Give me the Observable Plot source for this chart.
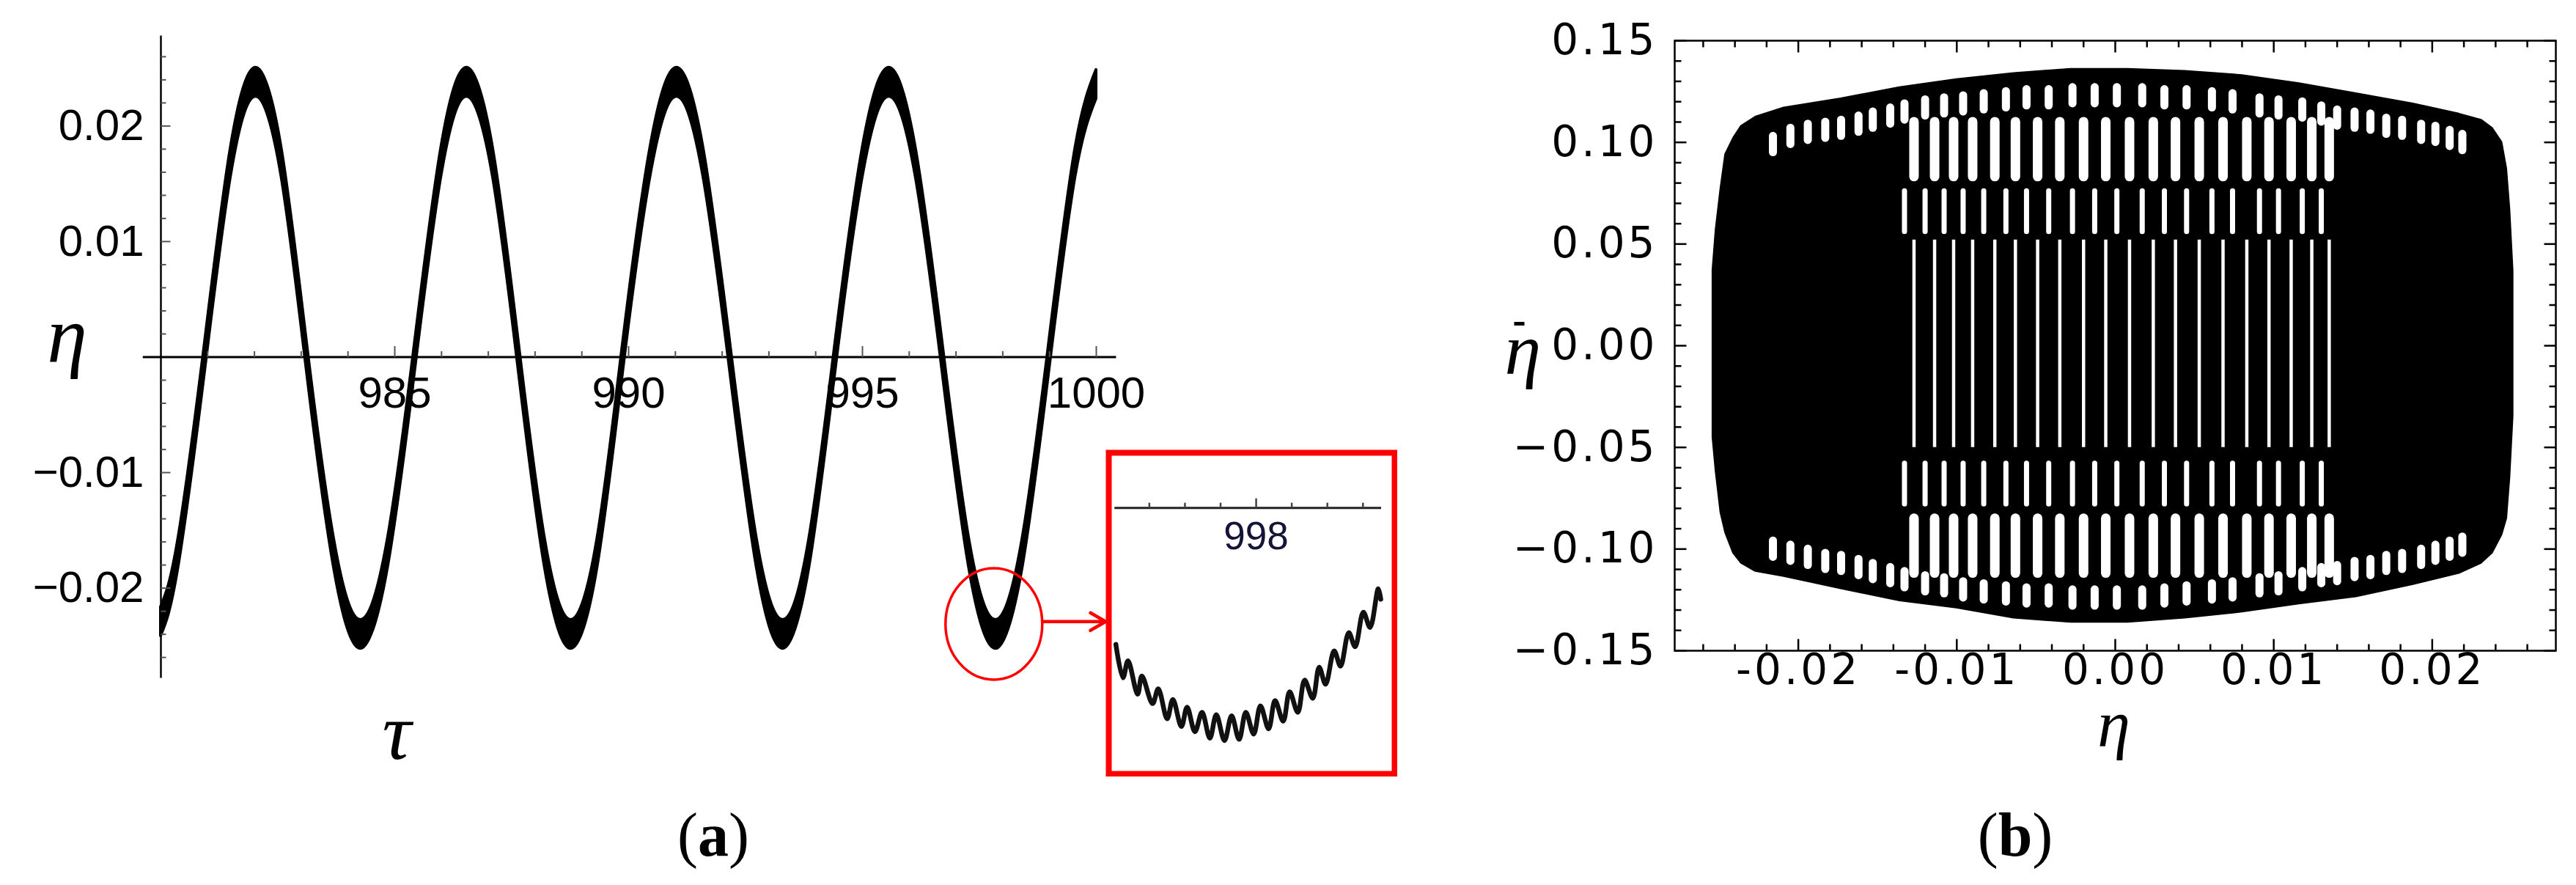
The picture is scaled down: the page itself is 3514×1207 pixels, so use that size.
<!DOCTYPE html>
<html>
<head>
<meta charset="utf-8">
<script src="https://cdn.jsdelivr.net/npm/d3@7"></script>
<script src="https://cdn.jsdelivr.net/npm/@observablehq/plot@0.6"></script>
<style>
  html, body { margin: 0; padding: 0; background: #fff; }
  #root { position: relative; width: 3514px; height: 1207px; overflow: hidden; background: #fff; }
  .cap { position: absolute; top: 1097px; font-family: "Liberation Serif", "DejaVu Serif", serif; font-size: 84px; line-height: 1; transform: translateX(-50%); color: #000; white-space: nowrap; }
  .cap b { font-weight: bold; }
</style>
</head>
<body>
<div id="root"></div>
<script>
// ---------------- Panel (a): eta(tau), centre line read at peaks / zero crossings / troughs
const tau = [980.00, 980.37, 980.94, 981.49, 982.03, 982.58, 983.12, 983.70, 984.27, 984.85,
             985.43, 985.99, 986.54, 987.10, 987.65, 988.21, 988.77, 989.33, 989.88, 990.46,
             991.03, 991.60, 992.17, 992.74, 993.30, 993.86, 994.42, 995.00, 995.57, 996.14,
             996.71, 997.28, 997.85, 998.42, 998.99, 999.55, 1000.00];
const eta = [-0.0229, -0.0170, 0, 0.0168, 0.0238, 0.0168, 0, -0.0170, -0.0240, -0.0170,
             0, 0.0168, 0.0238, 0.0168, 0, -0.0170, -0.0240, -0.0170, 0, 0.0168,
             0.0238, 0.0168, 0, -0.0170, -0.0240, -0.0170, 0, 0.0168, 0.0238, 0.0168,
             0, -0.0170, -0.0240, -0.0170, 0, 0.0168, 0.0236];
const rippleHalfWidth = 0.00125;          // half-height of the fast-ripple band
const etaTickLabels = [-0.02, -0.01, 0.01, 0.02];
const tauTickLabels = [985, 990, 995, 1000];
const zoomCircle = [{tau: 997.81, eta: -0.0231}];
const zoomArrow = [{tau1: 998.86, eta1: -0.0229, tau2: 1000.2, eta2: -0.0229}];

// ---------------- Inset: zoom of the trough near tau = 998
const insetTau = [997.606, 997.626, 997.640, 997.667, 997.679, 997.709, 997.725, 997.750, 997.766, 997.790,
                  997.806, 997.828, 997.848, 997.870, 997.888, 997.911, 997.931, 997.952, 997.971, 997.993,
                  998.012, 998.035, 998.053, 998.076, 998.094, 998.117, 998.136, 998.159, 998.177, 998.195,
                  998.219, 998.237, 998.260, 998.278, 998.301, 998.320, 998.343, 998.350];
const insetEta = [-0.02333, -0.02390, -0.02361, -0.02418, -0.02387, -0.02434, -0.02409, -0.02460, -0.02427, -0.02473,
                  -0.02440, -0.02482, -0.02449, -0.02493, -0.02453, -0.02497, -0.02455, -0.02495, -0.02449, -0.02486,
                  -0.02438, -0.02477, -0.02429, -0.02464, -0.02414, -0.02449, -0.02394, -0.02425, -0.02372, -0.02401,
                  -0.02344, -0.02370, -0.02313, -0.02337, -0.02278, -0.02304, -0.02238, -0.02256];
const insetTicks = [997.7, 997.8, 997.9, 998.0, 998.1, 998.2, 998.3];
const insetLabel = [998];
const insetAxisEta = -0.0210;

// ---------------- Panel (b): phase portrait (eta, eta-dot)
const envEta    = [-0.0254, -0.0252, -0.0249, -0.0246, -0.0241, -0.0236, -0.0227, -0.0209, -0.0173, -0.0136,
                   -0.0100, -0.0064, -0.0028, 0.0008, 0.0044, 0.0080, 0.0116, 0.0152, 0.0188, 0.0217,
                   0.0231, 0.0238, 0.0244, 0.0247, 0.0249, 0.0251];
const envTop    = [0.037, 0.057, 0.077, 0.094, 0.102, 0.108, 0.1125, 0.117, 0.1215, 0.127,
                   0.131, 0.134, 0.136, 0.136, 0.135, 0.133, 0.129, 0.124, 0.119, 0.114,
                   0.111, 0.107, 0.100, 0.087, 0.067, 0.037];
const envBottom = [-0.045, -0.062, -0.082, -0.092, -0.102, -0.107, -0.111, -0.1135, -0.1195, -0.1255,
                   -0.129, -0.134, -0.136, -0.136, -0.134, -0.131, -0.127, -0.1235, -0.1175, -0.112,
                   -0.107, -0.102, -0.093, -0.085, -0.065, -0.035];
// white loop openings seen in the trajectory (columns of loops)
const loopCols = [-0.0216, -0.0205, -0.0194, -0.0183, -0.0173, -0.0162, -0.0153, -0.0142, -0.0133, -0.0120,
                  -0.0108, -0.0096, -0.0083, -0.0069, -0.0056, -0.0042, -0.0027, -0.0013, 0.0001, 0.0017,
                  0.0031, 0.0045, 0.0061, 0.0074, 0.0091, 0.0103, 0.0118, 0.0130, 0.0140, 0.0151,
                  0.0161, 0.0171, 0.0181, 0.0193, 0.0202, 0.0211, 0.0219];
const loopTop = [0.103, 0.107, 0.109, 0.110, 0.111, 0.113, 0.115, 0.117, 0.119, 0.121,
                 0.122, 0.123, 0.124, 0.125, 0.126, 0.126, 0.127, 0.127, 0.127, 0.127,
                 0.126, 0.126, 0.125, 0.124, 0.122, 0.121, 0.120, 0.118, 0.116, 0.115,
                 0.114, 0.112, 0.111, 0.109, 0.108, 0.106, 0.104];
const loopBottom = [-0.104, -0.106, -0.108, -0.110, -0.111, -0.113, -0.115, -0.117, -0.119, -0.121,
                    -0.122, -0.124, -0.125, -0.126, -0.127, -0.127, -0.128, -0.128, -0.128, -0.128,
                    -0.127, -0.126, -0.125, -0.124, -0.122, -0.121, -0.119, -0.117, -0.116, -0.114,
                    -0.113, -0.111, -0.110, -0.108, -0.106, -0.104, -0.102];
const slitCols = [-0.0127, -0.0114, -0.0102, -0.0090, -0.0076, -0.0063, -0.0049, -0.0035, -0.0020, -0.0006,
                  0.0009, 0.0024, 0.0038, 0.0053, 0.0068, 0.0083, 0.0097, 0.0111, 0.0124, 0.0135];
const lensUpper = [0.083, 0.110];
const lensLower = [-0.112, -0.085];
const slitUpper = [0.056, 0.076];
const slitLower = [-0.078, -0.058];
const slitMiddle = [-0.050, 0.052];
const phaseXLabels = [-0.02, -0.01, 0, 0.01, 0.02];
const phaseYLabels = [-0.15, -0.10, -0.05, 0, 0.05, 0.10, 0.15];

// ---------------- helpers (shapes only)
const tickSym = (dx, dy) => ({draw(ctx) { ctx.moveTo(0, 0); ctx.lineTo(dx, dy); }});
const barSym = (w) => ({draw(ctx) { ctx.moveTo(-w / 2, 0); ctx.lineTo(w / 2, 0); }});
const ellipseSym = (rx, ry) => ({draw(ctx) {
  const k = 0.5523;
  ctx.moveTo(rx, 0);
  ctx.bezierCurveTo(rx, k * ry, k * rx, ry, 0, ry);
  ctx.bezierCurveTo(-k * rx, ry, -rx, k * ry, -rx, 0);
  ctx.bezierCurveTo(-rx, -k * ry, -k * rx, -ry, 0, -ry);
  ctx.bezierCurveTo(k * rx, -ry, rx, -k * ry, rx, 0);
  ctx.closePath();
}});
const SANS = "Liberation Sans, Arial, Helvetica, sans-serif";
const SERIF = "Liberation Serif, DejaVu Serif, serif";
const WIDE = "DejaVu Sans, Verdana, sans-serif";
const minus = s => s.replace("-", "\u2212");

const root = document.getElementById("root");
function place(node, left, top) {
  node.style.position = "absolute";
  node.style.left = left + "px";
  node.style.top = top + "px";
  node.style.maxWidth = "none";
  root.appendChild(node);
}

// ---------------- Panel (a)
const series = tau.map((t, i) => ({tau: t, eta: eta[i]}));
const etaMinor = d3.range(-13, 14).filter(i => i % 5 !== 0).map(i => i * 0.002);
const tauMinor = d3.range(981, 1001).filter(v => v % 5 !== 0);

const plotA = Plot.plot({
  width: 1600, height: 1100,
  marginLeft: 219, marginRight: 105, marginTop: 48.5, marginBottom: 175.5,
  x: {domain: [980, 1000], axis: null},
  y: {domain: [-0.0278, 0.0278], axis: null},
  marks: [
    Plot.areaY(series, {x: "tau", y1: d => d.eta - rippleHalfWidth, y2: d => d.eta + rippleHalfWidth,
      curve: "natural", fill: "black", stroke: "black", strokeWidth: 4}),
    Plot.ruleY([0], {x1: 979.62, x2: 1000.43, stroke: "black", strokeWidth: 3}),
    Plot.ruleX([980], {y1: -0.0278, y2: 0.0278, stroke: "black", strokeWidth: 2.5}),
    Plot.dot(etaMinor, {x: () => 980, y: d => d, symbol: tickSym(7, 0), stroke: "#555", strokeWidth: 2}),
    Plot.dot(etaTickLabels, {x: () => 980, y: d => d, symbol: tickSym(13, 0), stroke: "#555", strokeWidth: 2}),
    Plot.dot(tauMinor, {x: d => d, y: () => 0, symbol: tickSym(0, -8), stroke: "#555", strokeWidth: 2}),
    Plot.dot(tauTickLabels, {x: d => d, y: () => 0, symbol: tickSym(0, -15), stroke: "#555", strokeWidth: 2}),
    Plot.text(etaTickLabels, {x: () => 980, y: d => d, text: d => minus(d.toFixed(2)), textAnchor: "end",
      dx: -23, fontSize: 60, fontFamily: SANS, fill: "black"}),
    Plot.text(tauTickLabels, {x: d => d, y: () => 0, text: d => String(d), dy: 50,
      fontSize: 60, fontFamily: SANS, fill: "black"}),
    Plot.text(["\u03B7"], {x: () => 980, y: () => 0, text: d => d, dx: -128, dy: -28,
      fontSize: 110, fontFamily: SERIF, fontStyle: "italic", fill: "black"}),
    Plot.text(["\u03C4"], {frameAnchor: "bottom-left", text: d => d, dx: 302, dy: 110,
      fontSize: 110, fontFamily: SERIF, fontStyle: "italic", fill: "black"}),
    Plot.dot(zoomCircle, {x: "tau", y: "eta", symbol: ellipseSym(66, 76), stroke: "#ff0000", strokeWidth: 3.5, fill: "none"}),
    Plot.arrow(zoomArrow, {x1: "tau1", y1: "eta1", x2: "tau2", y2: "eta2", stroke: "#ff0000", strokeWidth: 4.5})
  ]
});
place(plotA, 0, 0);

// ---------------- Inset
const insetData = insetTau.map((t, i) => ({tau: t, eta: insetEta[i]}));
const plotInset = Plot.plot({
  width: 398, height: 446, marginLeft: 4, marginRight: 4, marginTop: 4, marginBottom: 4,
  x: {domain: [997.586, 998.389], axis: null},
  y: {domain: [-0.02554, -0.02006], axis: null},
  marks: [
    Plot.ruleY([insetAxisEta], {x1: 997.603, x2: 998.352, stroke: "#222", strokeWidth: 3}),
    Plot.dot(insetTicks.filter(v => v !== 998), {x: d => d, y: () => insetAxisEta, symbol: tickSym(0, -7), stroke: "#444", strokeWidth: 2.5}),
    Plot.dot(insetLabel, {x: d => d, y: () => insetAxisEta, symbol: tickSym(0, -13), stroke: "#444", strokeWidth: 2.5}),
    Plot.text(insetLabel, {x: d => d, y: () => insetAxisEta, text: d => String(d), dy: 39,
      fontSize: 53, fontFamily: SANS, fill: "#141438"}),
    Plot.line(insetData, {x: "tau", y: "eta", stroke: "#111", strokeWidth: 6.5, strokeLinejoin: "round",
      strokeLinecap: "round", curve: "catmull-rom"}),
    Plot.frame({stroke: "#ff0000", strokeWidth: 8})
  ]
});
place(plotInset, 1508, 613);

// ---------------- Panel (b)
const envData = envEta.map((e, i) => ({eta: e, top: envTop[i], bottom: envBottom[i]}));
const loopData = loopCols.map((e, i) => ({eta: e, top: loopTop[i], bottom: loopBottom[i]}));
const innerCols = loopCols.filter(v => Math.abs(v) < 0.0136);
const xMinorB = d3.range(-13, 14).filter(i => i % 5 !== 0).map(i => i * 0.002);
const yMinorB = d3.range(-14, 15).filter(i => i % 5 !== 0).map(i => i * 0.01);
const ovalLen = 0.008;
const tickB = {stroke: "black", strokeWidth: 2.5};

const plotB = Plot.plot({
  width: 1564, height: 1100,
  marginLeft: 334, marginRight: 28, marginTop: 55, marginBottom: 213,
  x: {domain: [-0.0278, 0.0278], axis: null},
  y: {domain: [-0.15, 0.15], axis: null},
  marks: [
    Plot.areaY(envData, {x: "eta", y1: "bottom", y2: "top", fill: "black", stroke: "black", strokeWidth: 2}),
    Plot.ruleX(loopData, {x: "eta", y1: d => d.top - ovalLen, y2: "top", stroke: "white", strokeWidth: 11, strokeLinecap: "round"}),
    Plot.ruleX(loopData, {x: "eta", y1: "bottom", y2: d => d.bottom + ovalLen, stroke: "white", strokeWidth: 11, strokeLinecap: "round"}),
    Plot.ruleX(slitCols, {x: d => d, y1: () => lensUpper[0], y2: () => lensUpper[1], stroke: "white", strokeWidth: 13, strokeLinecap: "round"}),
    Plot.ruleX(slitCols, {x: d => d, y1: () => lensLower[0], y2: () => lensLower[1], stroke: "white", strokeWidth: 13, strokeLinecap: "round"}),
    Plot.ruleX(innerCols, {x: d => d, y1: () => slitUpper[0], y2: () => slitUpper[1], stroke: "white", strokeWidth: 7, strokeLinecap: "round"}),
    Plot.ruleX(innerCols, {x: d => d, y1: () => slitLower[0], y2: () => slitLower[1], stroke: "white", strokeWidth: 7, strokeLinecap: "round"}),
    Plot.ruleX(slitCols, {x: d => d, y1: () => slitMiddle[0], y2: () => slitMiddle[1], stroke: "white", strokeWidth: 4.5}),
    Plot.frame({stroke: "black", strokeWidth: 2.5}),
    // ticks on all four sides, pointing inward
    Plot.dot(xMinorB, {x: d => d, frameAnchor: "bottom", symbol: tickSym(0, -9), ...tickB}),
    Plot.dot(phaseXLabels, {x: d => d, frameAnchor: "bottom", symbol: tickSym(0, -16), ...tickB}),
    Plot.dot(xMinorB, {x: d => d, frameAnchor: "top", symbol: tickSym(0, 9), ...tickB}),
    Plot.dot(phaseXLabels, {x: d => d, frameAnchor: "top", symbol: tickSym(0, 16), ...tickB}),
    Plot.dot(yMinorB, {y: d => d, frameAnchor: "left", symbol: tickSym(9, 0), ...tickB}),
    Plot.dot(phaseYLabels, {y: d => d, frameAnchor: "left", symbol: tickSym(16, 0), ...tickB}),
    Plot.dot(yMinorB, {y: d => d, frameAnchor: "right", symbol: tickSym(-9, 0), ...tickB}),
    Plot.dot(phaseYLabels, {y: d => d, frameAnchor: "right", symbol: tickSym(-16, 0), ...tickB}),
    Plot.text(phaseXLabels, {x: d => d, frameAnchor: "bottom", text: d => d.toFixed(2), dy: 45,
      fontSize: 58, fontFamily: WIDE, fill: "black"}),
    Plot.text(phaseYLabels, {y: d => d, frameAnchor: "left", text: d => minus(d.toFixed(2)), textAnchor: "end", dx: -23,
      fontSize: 58, fontFamily: WIDE, fill: "black"}),
    Plot.text(["\u03B7"], {frameAnchor: "bottom", text: d => d, dy: 130,
      fontSize: 90, fontFamily: SERIF, fontStyle: "italic", fill: "black"}),
    Plot.text(["\u03B7"], {frameAnchor: "left", text: d => d, dx: -232, dy: 6,
      fontSize: 100, fontFamily: SERIF, fontStyle: "italic", fill: "black"}),
    // the dot of eta-dot
    Plot.dot([0], {frameAnchor: "left", dx: -212, dy: -30, symbol: barSym(14), stroke: "black", strokeWidth: 5})
  ]
});
plotB.style.letterSpacing = "4px";
place(plotB, 1950, 0);

// ---------------- captions
const capA = document.createElement("div");
capA.className = "cap"; capA.style.left = "973px"; capA.innerHTML = "(<b>a</b>)";
root.appendChild(capA);
const capB = document.createElement("div");
capB.className = "cap"; capB.style.left = "2749px"; capB.innerHTML = "(<b>b</b>)";
root.appendChild(capB);
</script>
</body>
</html>
